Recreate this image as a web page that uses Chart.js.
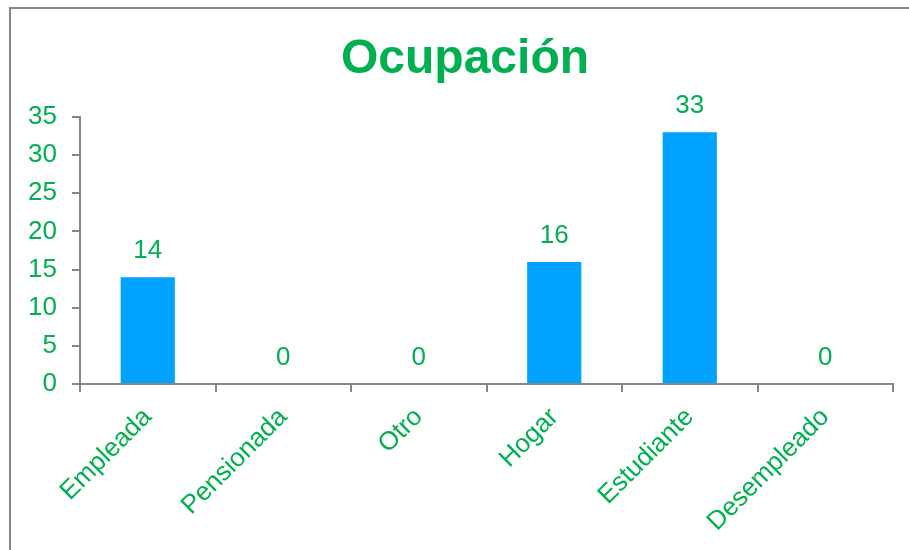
<!DOCTYPE html>
<html>
<head>
<meta charset="utf-8">
<script src="https://cdn.jsdelivr.net/npm/chart.js@4"></script>
<style>
  body { margin: 0; background: #fff; }
  #wrap { width: 909px; height: 550px; position: relative; }
</style>
</head>
<body>
<div id="wrap"><canvas id="ocupacionChart"></canvas></div>
<script>
// data
const titulo = 'Ocupación';
const categorias = ['Empleada', 'Pensionada', 'Otro', 'Hogar', 'Estudiante', 'Desempleado'];
const cantidades = [14, 0, 0, 16, 33, 0];
const yTicks = [0, 5, 10, 15, 20, 25, 30, 35];

const verde = '#00B050';
const azul = '#00A2FF';
const gris = '#868686';
const fuente = '"Liberation Sans", Arial, sans-serif';

// border round the chart (top + left only, like the original) and the title
const marco = {
  id: 'marco',
  beforeDraw(chart) {
    const ctx = chart.ctx;
    ctx.save();
    ctx.strokeStyle = gris;
    ctx.lineWidth = 2;
    ctx.beginPath();
    ctx.moveTo(10, 550);
    ctx.lineTo(10, 8);
    ctx.lineTo(909, 8);
    ctx.stroke();

    ctx.font = 'bold 48px ' + fuente;
    ctx.fillStyle = verde;
    ctx.textAlign = 'center';
    ctx.textBaseline = 'alphabetic';
    ctx.fillText(titulo, 465, 73);
    ctx.restore();
  }
};

// value labels above the bars
const etiquetas = {
  id: 'etiquetas',
  afterDatasetsDraw(chart) {
    const ctx = chart.ctx;
    const meta = chart.getDatasetMeta(0);
    ctx.save();
    ctx.font = '26px ' + fuente;
    ctx.fillStyle = verde;
    ctx.textAlign = 'center';
    ctx.textBaseline = 'middle';
    meta.data.forEach(function (bar, i) {
      ctx.fillText(cantidades[i], bar.x, bar.y - 26);
    });
    ctx.restore();
  }
};

const config = {
  type: 'bar',
  data: {
    labels: categorias,
    datasets: [{
      label: titulo,
      data: cantidades,
      backgroundColor: azul,
      borderWidth: 0,
      barPercentage: 0.4,
      categoryPercentage: 1
    }]
  },
  options: {
    responsive: false,
    animation: false,
    layout: { padding: { left: 0, right: 16, top: 117, bottom: 0 } },
    plugins: {
      legend: { display: false },
      tooltip: { enabled: false },
      title: { display: false }
    },
    scales: {
      x: {
        grid: { display: true, drawOnChartArea: false, tickLength: 8, color: gris, lineWidth: 2, offset: true },
        border: { display: true, color: gris, width: 2 },
        ticks: {
          color: verde,
          font: { family: fuente, size: 26 },
          minRotation: 45,
          maxRotation: 45,
          padding: 10
        },
        afterFit(scale) { scale.height = 166; }
      },
      y: {
        min: 0,
        max: 35,
        afterBuildTicks(scale) { scale.ticks = yTicks.map(v => ({ value: v })); },
        grid: { display: true, drawOnChartArea: false, tickLength: 8, color: gris, lineWidth: 2 },
        border: { display: true, color: gris, width: 2 },
        ticks: {
          color: verde,
          font: { family: fuente, size: 26 },
          padding: 15
        },
        afterFit(scale) { scale.width = 80; }
      }
    }
  },
  plugins: [marco, etiquetas]
};

const canvas = document.getElementById('ocupacionChart');
canvas.width = 909;
canvas.height = 550;
new Chart(canvas, config);
</script>
</body>
</html>
